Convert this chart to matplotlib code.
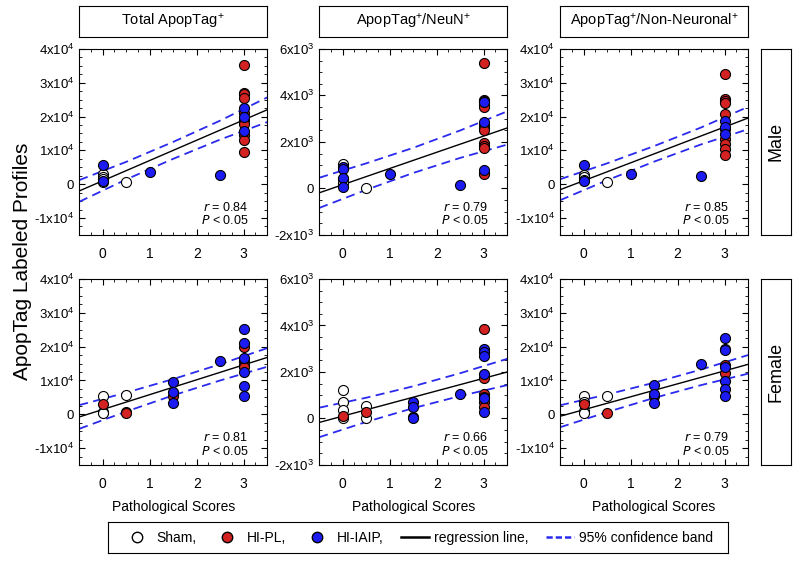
import numpy as np
import matplotlib
matplotlib.use('Agg')
import matplotlib.pyplot as plt
from matplotlib.ticker import FuncFormatter, AutoMinorLocator, MultipleLocator
from matplotlib.lines import Line2D

plt.rcParams['font.family'] = ['Liberation Sans', 'DejaVu Sans']
plt.rcParams['mathtext.default'] = 'regular'

# (x, y) per group
# male, total ApopTag+
m_tot_sham = ([0, 0, 0, 0, 0.5], [3000, 2200, 1500, 500, 700])
m_tot_pl = ([3] * 10, [35200, 27100, 26600, 25600, 21000, 19000, 17700, 14500, 13100, 9600])
m_tot_iaip = ([0, 0, 1, 2.5, 3, 3, 3], [5700, 1000, 3600, 2700, 22400, 19900, 15600])
# male, ApopTag+/NeuN+
m_neu_sham = ([0, 0, 0, 0.5], [1070, 400, 250, 0])
m_neu_pl = ([3] * 13, [5410, 3810, 3740, 3580, 3500, 2740, 2600, 2500, 1960, 1840, 1750, 670, 600])
m_neu_iaip = ([0, 0, 0, 0, 1, 2.5, 3, 3, 3], [930, 850, 460, 60, 640, 140, 3700, 2840, 790])
# male, ApopTag+/non-neuronal+
m_nn_sham = ([0, 0, 0, 0.5], [2700, 2000, 1300, 700])
m_nn_pl = ([3] * 10, [32700, 25100, 24600, 24100, 20700, 16300, 13300, 12000, 10500, 8700])
m_nn_iaip = ([0, 0, 1, 2.5, 3, 3, 3], [5700, 800, 3100, 2500, 18700, 17000, 14800])
# female, total ApopTag+
f_tot_sham = ([0, 0, 0, 0.5], [5400, 800, 400, 5800])
f_tot_pl = ([0, 0.5, 0.5, 1.5, 3, 3, 3, 3], [3000, 700, 400, 5300, 20000, 15700, 14500, 14000])
f_tot_iaip = ([1.5, 1.5, 1.5, 2.5, 3, 3, 3, 3, 3, 3],
              [9400, 6600, 3400, 15700, 25300, 21000, 16500, 12600, 8300, 5400])
# female, ApopTag+/NeuN+
f_neu_sham = ([0, 0, 0, 0, 0.5, 0.5], [1210, 710, 360, 0, 540, 0])
f_neu_pl = ([0, 0.5, 3, 3, 3, 3, 3, 3], [100, 300, 3870, 1740, 1070, 930, 710, 500])
f_neu_iaip = ([1.5, 1.5, 1.5, 1.5, 2.5, 3, 3, 3, 3, 3, 3],
              [690, 500, 70, 0, 1040, 2970, 2860, 2700, 1930, 900, 260])
# female, ApopTag+/non-neuronal+
f_nn_sham = ([0, 0, 0, 0, 0.5], [5400, 3700, 1000, 500, 5400])
f_nn_pl = ([0, 0.5, 1.5, 3, 3], [3000, 500, 5400, 14500, 12300])
f_nn_iaip = ([1.5, 1.5, 1.5, 2.5, 3, 3, 3, 3, 3, 3, 3],
             [8800, 6100, 3400, 14800, 22500, 19200, 18900, 14000, 9800, 7600, 5300])

# regression line at x = -0.5 and 3.5
fit_x = [-0.5, 3.5]
fits = [[-2000, 22000], [-190, 2600], [-1650, 19550],
        [-800, 16800], [-170, 2000], [-600, 14750]]
# half width of the 95% band
band_x = [-0.5, 0.5, 1.5, 2.5, 3.5]
bands = [[3200, 2600, 2500, 2800, 3650], [650, 570, 540, 590, 715],
         [3100, 2500, 2300, 2500, 3300], [3500, 2800, 2400, 2400, 2750],
         [635, 520, 470, 490, 565], [3250, 2600, 2250, 2300, 2750]]
r_vals = ['0.84', '0.79', '0.85', '0.81', '0.66', '0.79']

col_titles = ['Total ApopTag$^{+}$', 'ApopTag$^{+}$/NeuN$^{+}$', 'ApopTag$^{+}$/Non-Neuronal$^{+}$']
row_titles = ['Male', 'Female']

panels = [(m_tot_sham, m_tot_pl, m_tot_iaip), (m_neu_sham, m_neu_pl, m_neu_iaip),
          (m_nn_sham, m_nn_pl, m_nn_iaip), (f_tot_sham, f_tot_pl, f_tot_iaip),
          (f_neu_sham, f_neu_pl, f_neu_iaip), (f_nn_sham, f_nn_pl, f_nn_iaip)]

RED = '#d42222'
BLUE = '#1c1cf2'
DASH = '#2a2aee'


def sci(v, pos):
    if abs(v) < 1e-9:
        return '0'
    e = int(np.floor(np.log10(abs(v))))
    m = v / 10 ** e
    return '%gx10$^{%d}$' % (m, e)


fig = plt.figure(figsize=(8, 5.62), dpi=100)
lefts = [0.099, 0.399, 0.700]
bottoms = [0.582, 0.1726]
w, h = 0.235, 0.331

for i, (sham, pl, iaip) in enumerate(panels):
    row, col = divmod(i, 3)
    ax = fig.add_axes([lefts[col], bottoms[row], w, h])
    big = col != 1
    if big:
        ax.set_ylim(-1.5e4, 4e4)
        ax.yaxis.set_major_locator(MultipleLocator(1e4))
    else:
        ax.set_ylim(-2e3, 6e3)
        ax.yaxis.set_major_locator(MultipleLocator(2e3))
    ax.set_xlim(-0.5, 3.5)
    ax.set_xticks([0, 1, 2, 3])
    ax.xaxis.set_minor_locator(AutoMinorLocator(4))
    ax.yaxis.set_minor_locator(AutoMinorLocator(4))
    ax.yaxis.set_major_formatter(FuncFormatter(sci))
    ax.tick_params(which='both', direction='in', top=True, right=True, labelsize=9.5)
    ax.tick_params(which='major', length=4)
    ax.tick_params(which='minor', length=2)
    ax.tick_params(axis='x', pad=9, labelsize=10)

    fy = np.array(fits[i], dtype=float)
    ax.plot(fit_x, fy, color='black', lw=1.0, zorder=2)
    slope = (fy[1] - fy[0]) / (fit_x[1] - fit_x[0])
    bx = np.array(band_x)
    line_b = fy[0] + slope * (bx - fit_x[0])
    hw = np.array(bands[i])
    for sgn in (1, -1):
        ax.plot(bx, line_b + sgn * hw, color=DASH, lw=1.3, dashes=(5, 3), zorder=2)

    ax.scatter(sham[0], sham[1], s=52, facecolor='white', edgecolor='black', lw=0.8, zorder=3)
    ax.scatter(pl[0], pl[1], s=52, facecolor=RED, edgecolor='black', lw=0.8, zorder=3)
    ax.scatter(iaip[0], iaip[1], s=52, facecolor=BLUE, edgecolor='black', lw=0.8, zorder=4)

    ax.text(0.9, 0.15, '$\\it{r}$ = ' + r_vals[i], transform=ax.transAxes,
            ha='right', va='center', fontsize=9)
    ax.text(0.9, 0.075, '$\\it{P}$ < 0.05', transform=ax.transAxes,
            ha='right', va='center', fontsize=9)
    if row == 1:
        ax.set_xlabel('Pathological Scores', fontsize=10, labelpad=6)

# column title boxes
for col in range(3):
    bax = fig.add_axes([lefts[col], 0.934, w, 0.055])
    bax.set_xticks([])
    bax.set_yticks([])
    bax.text(0.5, 0.5, col_titles[col], ha='center', va='center', fontsize=10.5)

# row title boxes
for row in range(2):
    bax = fig.add_axes([0.951, bottoms[row], 0.0375, h])
    bax.set_xticks([])
    bax.set_yticks([])
    bax.text(0.5, 0.5, row_titles[row], ha='center', va='center', fontsize=13, rotation=90)

fig.text(0.028, 0.535, 'ApopTag Labeled Profiles', rotation=90, ha='center', va='center', fontsize=15)

# legend box
lax = fig.add_axes([0.135, 0.016, 0.775, 0.055])
lax.set_xticks([])
lax.set_yticks([])
handles = [
    Line2D([], [], ls='none', marker='o', ms=7.5, mfc='white', mec='black'),
    Line2D([], [], ls='none', marker='o', ms=7.5, mfc=RED, mec='black'),
    Line2D([], [], ls='none', marker='o', ms=7.5, mfc=BLUE, mec='black'),
    Line2D([], [], color='black', lw=1.8),
    Line2D([], [], color=DASH, lw=1.8, dashes=(2.5, 1.2)),
]
labels = ['Sham,', 'HI-PL,', 'HI-IAIP,', 'regression line,', '95% confidence band']
lax.legend(handles, labels, loc='center', ncol=5, frameon=False, fontsize=10,
           handlelength=2.0, handletextpad=0.4, columnspacing=1.25)

fig.savefig('out.png', dpi=100)
